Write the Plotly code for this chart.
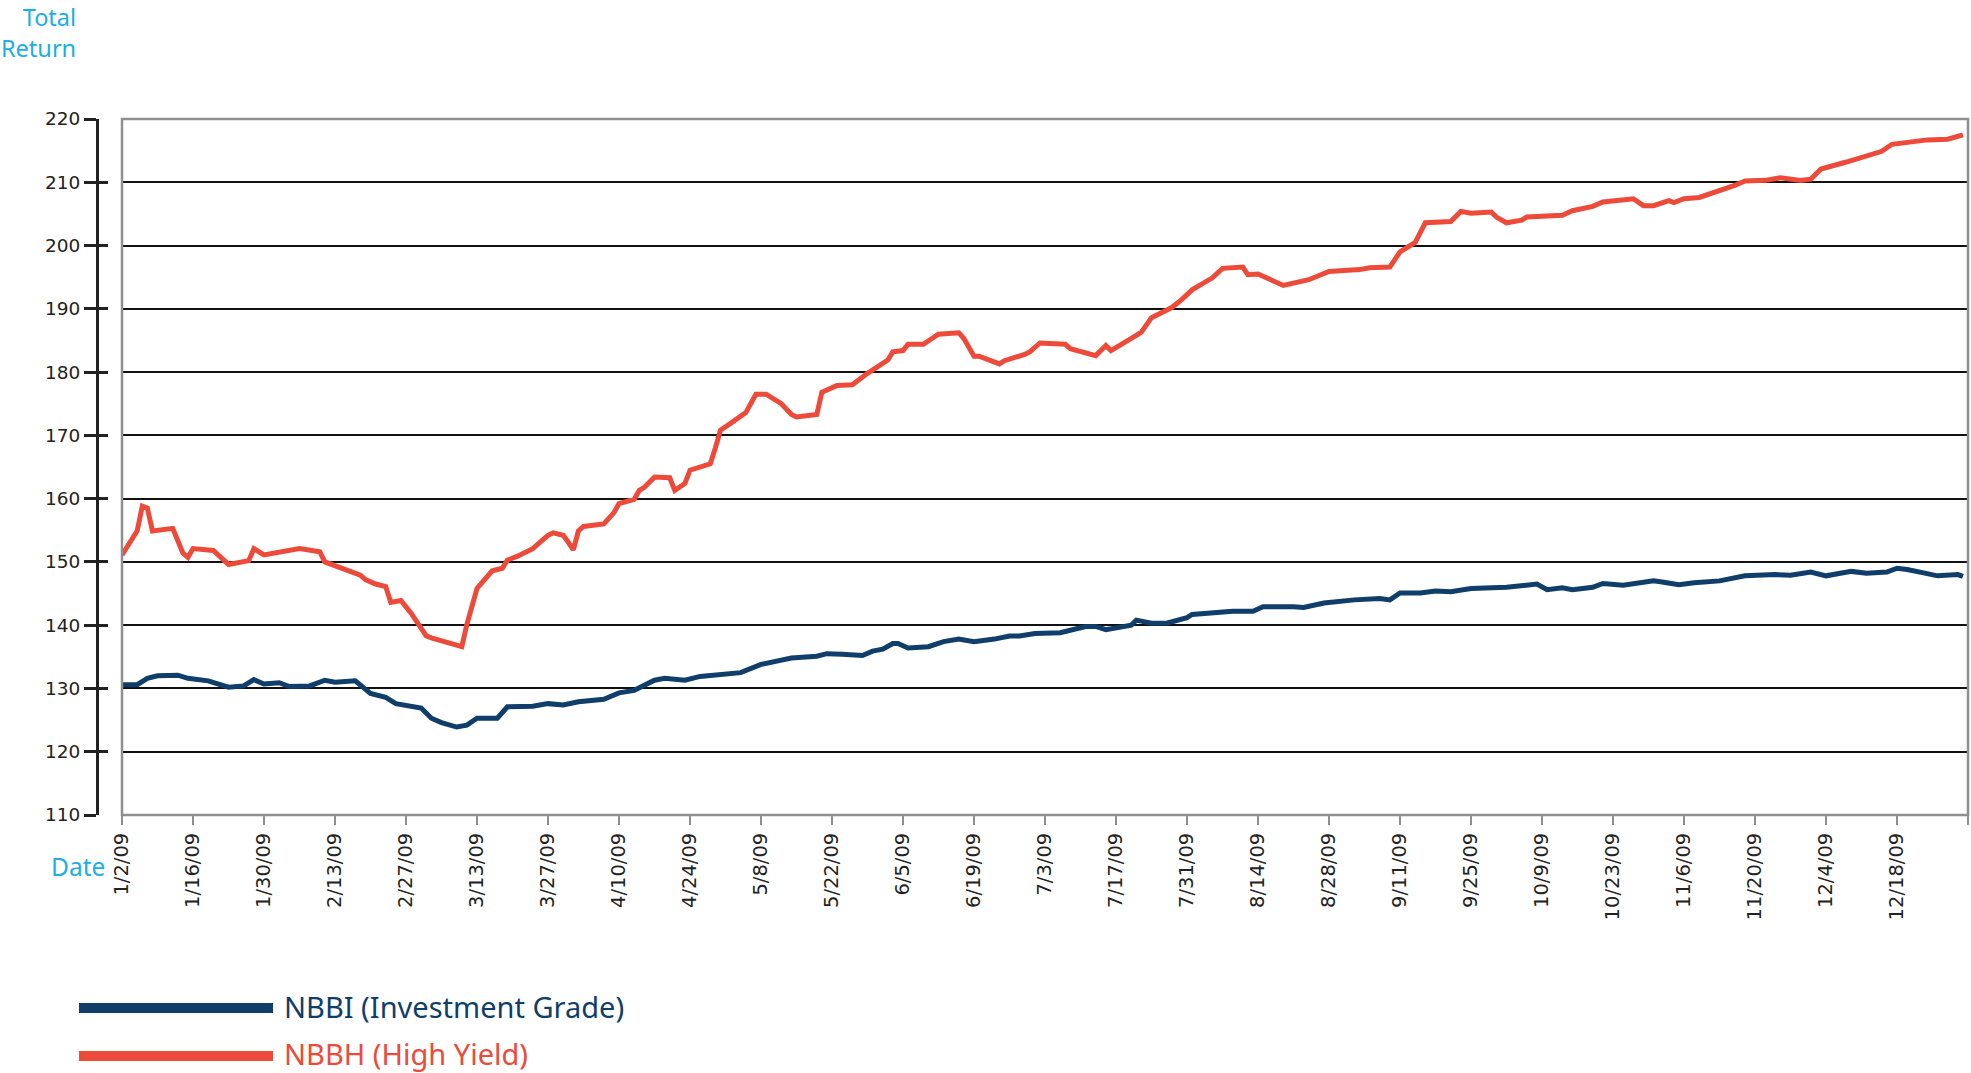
import plotly.graph_objects as go

# %%
# Values (total return index, 2009)

ig_dates = [
    "2009-01-02", "2009-01-05", "2009-01-07", "2009-01-09", "2009-01-13", "2009-01-15",
    "2009-01-19", "2009-01-23", "2009-01-26", "2009-01-28", "2009-01-30", "2009-02-02",
    "2009-02-04", "2009-02-08", "2009-02-11", "2009-02-13", "2009-02-17", "2009-02-20",
    "2009-02-23", "2009-02-25", "2009-03-02", "2009-03-04", "2009-03-06", "2009-03-09",
    "2009-03-11", "2009-03-13", "2009-03-17", "2009-03-19", "2009-03-24", "2009-03-27",
    "2009-03-30", "2009-04-02", "2009-04-07", "2009-04-10", "2009-04-13", "2009-04-17",
    "2009-04-19", "2009-04-23", "2009-04-26", "2009-05-01", "2009-05-04", "2009-05-08",
    "2009-05-11", "2009-05-14", "2009-05-19", "2009-05-21", "2009-05-24", "2009-05-28",
    "2009-05-30", "2009-06-01", "2009-06-03", "2009-06-04", "2009-06-06", "2009-06-10",
    "2009-06-13", "2009-06-16", "2009-06-19", "2009-06-23", "2009-06-26", "2009-06-28",
    "2009-07-01", "2009-07-06", "2009-07-11", "2009-07-13", "2009-07-15", "2009-07-20",
    "2009-07-21", "2009-07-24", "2009-07-27", "2009-07-31", "2009-08-01", "2009-08-05",
    "2009-08-09", "2009-08-13", "2009-08-15", "2009-08-21", "2009-08-23", "2009-08-27",
    "2009-09-02", "2009-09-07", "2009-09-09", "2009-09-11", "2009-09-15", "2009-09-18",
    "2009-09-21", "2009-09-25", "2009-09-30", "2009-10-02", "2009-10-08", "2009-10-10",
    "2009-10-13", "2009-10-15", "2009-10-19", "2009-10-21", "2009-10-25", "2009-10-27",
    "2009-10-31", "2009-11-02", "2009-11-05", "2009-11-08", "2009-11-13", "2009-11-18",
    "2009-11-24", "2009-11-27", "2009-12-01", "2009-12-04", "2009-12-09", "2009-12-12",
    "2009-12-16", "2009-12-18", "2009-12-20", "2009-12-23", "2009-12-26", "2009-12-30",
    "2009-12-31",
]
ig_values = [
    130.6, 130.6, 131.6, 132.0, 132.1, 131.6,
    131.2, 130.2, 130.4, 131.4, 130.7, 130.9,
    130.3, 130.4, 131.3, 131.0, 131.2, 129.2,
    128.6, 127.6, 126.9, 125.3, 124.6, 123.9,
    124.2, 125.3, 125.3, 127.1, 127.2, 127.6,
    127.4, 127.9, 128.3, 129.3, 129.7, 131.3,
    131.6, 131.3, 131.9, 132.2, 132.5, 133.8,
    134.3, 134.8, 135.1, 135.5, 135.4, 135.2,
    135.9, 136.2, 137.1, 137.1, 136.4, 136.6,
    137.4, 137.8, 137.4, 137.8, 138.3, 138.3,
    138.7, 138.8, 139.8, 139.8, 139.3, 140.0,
    140.8, 140.3, 140.3, 141.2, 141.7, 141.9,
    142.2, 142.2, 142.9, 142.9, 142.8, 143.5,
    144.0, 144.2, 144.0, 145.1, 145.1, 145.4,
    145.3, 145.8, 145.9, 146.0, 146.5, 145.6,
    145.9, 145.6, 146.0, 146.6, 146.3, 146.6,
    147.0, 146.8, 146.4, 146.7, 147.0, 147.8,
    148.0, 147.9, 148.4, 147.8, 148.5, 148.2,
    148.4, 149.0, 148.8, 148.3, 147.8, 148.0,
    147.7,
]

hy_dates = [
    "2009-01-02", "2009-01-05", "2009-01-06", "2009-01-07", "2009-01-08", "2009-01-12",
    "2009-01-14", "2009-01-15", "2009-01-16", "2009-01-20", "2009-01-23", "2009-01-27",
    "2009-01-28", "2009-01-30", "2009-02-06", "2009-02-10", "2009-02-11", "2009-02-18",
    "2009-02-19", "2009-02-21", "2009-02-23", "2009-02-24", "2009-02-26", "2009-02-28",
    "2009-03-03", "2009-03-04", "2009-03-10", "2009-03-11", "2009-03-13", "2009-03-14",
    "2009-03-16", "2009-03-18", "2009-03-19", "2009-03-21", "2009-03-24", "2009-03-25",
    "2009-03-27", "2009-03-28", "2009-03-30", "2009-03-31", "2009-04-01", "2009-04-02",
    "2009-04-03", "2009-04-07", "2009-04-09", "2009-04-10", "2009-04-13", "2009-04-14",
    "2009-04-15", "2009-04-17", "2009-04-20", "2009-04-21", "2009-04-23", "2009-04-24",
    "2009-04-28", "2009-04-29", "2009-04-30", "2009-05-02", "2009-05-05", "2009-05-07",
    "2009-05-09", "2009-05-12", "2009-05-14", "2009-05-15", "2009-05-19", "2009-05-20",
    "2009-05-23", "2009-05-26", "2009-05-29", "2009-06-02", "2009-06-03", "2009-06-05",
    "2009-06-06", "2009-06-09", "2009-06-12", "2009-06-16", "2009-06-17", "2009-06-19",
    "2009-06-20", "2009-06-24", "2009-06-25", "2009-06-29", "2009-06-30", "2009-07-02",
    "2009-07-07", "2009-07-08", "2009-07-13", "2009-07-15", "2009-07-16", "2009-07-21",
    "2009-07-22", "2009-07-24", "2009-07-28", "2009-07-30", "2009-08-01", "2009-08-05",
    "2009-08-07", "2009-08-11", "2009-08-12", "2009-08-14", "2009-08-19", "2009-08-24",
    "2009-08-28", "2009-09-03", "2009-09-05", "2009-09-09", "2009-09-11", "2009-09-14",
    "2009-09-16", "2009-09-21", "2009-09-23", "2009-09-25", "2009-09-29", "2009-09-30",
    "2009-10-02", "2009-10-05", "2009-10-06", "2009-10-13", "2009-10-15", "2009-10-19",
    "2009-10-21", "2009-10-27", "2009-10-29", "2009-10-31", "2009-11-03", "2009-11-04",
    "2009-11-06", "2009-11-09", "2009-11-14", "2009-11-16", "2009-11-18", "2009-11-22",
    "2009-11-25", "2009-11-29", "2009-12-01", "2009-12-03", "2009-12-08", "2009-12-11",
    "2009-12-15", "2009-12-17", "2009-12-21", "2009-12-24", "2009-12-28", "2009-12-31",
]
hy_values = [
    151.1, 154.9, 158.8, 158.5, 154.9, 155.3,
    151.4, 150.7, 152.1, 151.8, 149.6, 150.2,
    152.1, 151.1, 152.1, 151.6, 150.0, 147.9,
    147.2, 146.5, 146.1, 143.6, 143.9, 141.9,
    138.3, 138.0, 136.6, 140.1, 145.8, 146.8,
    148.6, 149.0, 150.3, 150.9, 152.1, 152.8,
    154.2, 154.6, 154.2, 153.1, 151.9, 154.9,
    155.6, 156.0, 157.8, 159.2, 159.9, 161.3,
    161.8, 163.4, 163.3, 161.3, 162.4, 164.5,
    165.5, 168.0, 170.8, 171.9, 173.6, 176.5,
    176.5, 175.0, 173.3, 172.9, 173.3, 176.8,
    177.9, 178.0, 179.8, 181.9, 183.2, 183.4,
    184.4, 184.4, 186.0, 186.2, 185.3, 182.5,
    182.5, 181.3, 181.8, 182.8, 183.2, 184.6,
    184.4, 183.7, 182.6, 184.2, 183.4, 185.8,
    186.3, 188.6, 190.2, 191.5, 193.0, 194.9,
    196.4, 196.6, 195.4, 195.5, 193.7, 194.6,
    195.9, 196.2, 196.5, 196.6, 199.0, 200.5,
    203.6, 203.8, 205.4, 205.1, 205.3, 204.5,
    203.6, 204.0, 204.5, 204.8, 205.5, 206.2,
    206.9, 207.4, 206.3, 206.3, 207.1, 206.8,
    207.4, 207.6, 208.9, 209.5, 210.2, 210.3,
    210.7, 210.3, 210.5, 212.1, 213.2, 213.9,
    214.9, 216.0, 216.3, 216.7, 216.8, 217.5,
]

series_names = ["NBBI (Investment Grade)", "NBBH (High Yield)"]
y_ticks = [110, 120, 130, 140, 150, 160, 170, 180, 190, 200, 210, 220]

# %%
# Colours and page geometry

BLUE = "#0f3e6b"
RED = "#ee4a3a"
CYAN = "#1aaeea"
BORDER = "#8f8f8f"

W, H = 1971, 1073
M_L, M_R, M_T, M_B = 0, 3, 119, 258
PW = W - M_L - M_R
PH = H - M_T - M_B


def px_x(x):
    return (x - M_L) / PW


def px_y(y):
    return (H - M_B - y) / PH


fig = go.Figure()

fig.add_trace(
    go.Scatter(
        x=ig_dates, y=ig_values, mode="lines", name=series_names[0],
        line=dict(color=BLUE, width=5), showlegend=False,
    )
)
fig.add_trace(
    go.Scatter(
        x=hy_dates, y=hy_values, mode="lines", name=series_names[1],
        line=dict(color=RED, width=5), showlegend=False,
    )
)
# invisible trace so the second y axis (inner tick marks) gets drawn
fig.add_trace(
    go.Scatter(x=[hy_dates[0]], y=[hy_values[0]], yaxis="y2", mode="markers",
               marker=dict(opacity=0), showlegend=False, hoverinfo="skip")
)

fig.update_layout(
    width=W,
    height=H,
    margin=dict(l=M_L, r=M_R, t=M_T, b=M_B, autoexpand=False),
    paper_bgcolor="white",
    plot_bgcolor="white",
    font=dict(family="DejaVu Sans", size=18, color="#222222"),
    xaxis=dict(
        type="date",
        domain=[px_x(122), 1],
        range=["2009-01-02", "2010-01-01"],
        tick0="2009-01-02",
        dtick=14 * 86400000,
        tickformat="%-m/%-d/%y",
        tickangle=-90,
        tickfont=dict(family="DejaVu Sans", size=19.5, color="#222222"),
        ticks="outside",
        ticklen=9,
        tickwidth=1.5,
        tickcolor=BORDER,
        showgrid=False,
        showline=False,
        zeroline=False,
        automargin=False,
    ),
    yaxis=dict(
        range=[110, 220],
        tickvals=y_ticks,
        anchor="free",
        position=px_x(97),
        ticks="outside",
        ticklen=12,
        tickwidth=3,
        tickcolor="#222222",
        showline=True,
        linecolor="#222222",
        linewidth=3,
        showgrid=True,
        gridcolor="#111111",
        gridwidth=2,
        zeroline=False,
        automargin=False,
        tickfont=dict(family="DejaVu Sans", size=18.5, color="#222222"),
    ),
    yaxis2=dict(
        range=[110, 220],
        tickvals=y_ticks,
        overlaying="y",
        anchor="free",
        position=px_x(97),
        side="left",
        ticks="inside",
        ticklen=10,
        tickwidth=3,
        tickcolor="#222222",
        showticklabels=False,
        showgrid=False,
        showline=False,
        zeroline=False,
        automargin=False,
    ),
)

# grey frame round the plot area
fig.add_shape(
    type="rect", xref="x domain", yref="y domain", x0=0, x1=1, y0=0, y1=1,
    line=dict(color=BORDER, width=2.5), layer="above",
)

# axis titles
fig.add_annotation(
    text="Total<br>Return", xref="paper", yref="paper",
    x=px_x(78), y=px_y(33), xanchor="right", yanchor="middle", align="right",
    showarrow=False, font=dict(family="Noto Sans", size=23.5, color=CYAN),
)
fig.add_annotation(
    text="Date", xref="paper", yref="paper",
    x=px_x(107), y=px_y(866), xanchor="right", yanchor="middle",
    showarrow=False, font=dict(family="Noto Sans", size=24.5, color=CYAN),
)

# hand-drawn legend: long colour bars with labels
for name, color, y_bar, y_text in [
    (series_names[0], BLUE, 1008, 1006),
    (series_names[1], RED, 1056, 1053),
]:
    fig.add_shape(
        type="line", xref="paper", yref="paper",
        x0=px_x(79), x1=px_x(273), y0=px_y(y_bar), y1=px_y(y_bar),
        line=dict(color=color, width=10),
    )
    fig.add_annotation(
        text=name, xref="paper", yref="paper",
        x=px_x(282), y=px_y(y_text), xanchor="left", yanchor="middle",
        showarrow=False, font=dict(family="Noto Sans", size=29, color=color),
    )

# the page's default body margin would shift the whole figure by 8px
fig.write_html(
    "out.html",
    config={"displayModeBar": False},
    post_script="document.body.style.margin = '0';",
)
